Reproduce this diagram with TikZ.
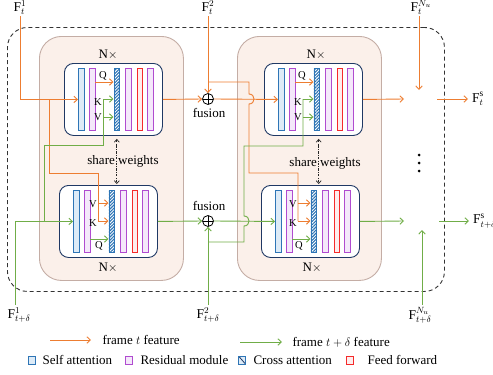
\documentclass[tikz,border=0pt]{standalone}
\usepackage{fontspec}
\setmainfont{Liberation Serif}
\usetikzlibrary{arrows.meta,patterns.meta,calc}

\definecolor{orng}{HTML}{ED7D31}
\definecolor{grn}{HTML}{70AD47}
\definecolor{sablue}{HTML}{2E75B6}
\definecolor{safill}{HTML}{DDEBF7}
\definecolor{rmpurple}{HTML}{B04BD0}
\definecolor{rmfill}{HTML}{F4E8FA}
\definecolor{ffred}{HTML}{F52A2A}
\definecolor{fffill}{HTML}{FDEDED}
\definecolor{navy}{HTML}{1F3864}
\definecolor{shellfill}{HTML}{FBF0EA}
\definecolor{shelldraw}{HTML}{C4ADA5}

\tikzset{
  bar/.style={minimum width=5.5pt, minimum height=62pt, inner sep=0pt, anchor=north west, line width=0.9pt},
  sabar/.style={bar, draw=sablue, fill=safill},
  rmbar/.style={bar, draw=rmpurple, fill=rmfill},
  ffbar/.style={bar, draw=ffred, fill=fffill},
  cabar/.style={bar, draw=sablue, preaction={fill=white},
    pattern={Lines[angle=45,distance=2.2pt,line width=1.1pt]}, pattern color=sablue},
  innerbox/.style={draw=navy, fill=white, line width=0.9pt, rounded corners=9pt,
    minimum width=98pt, minimum height=72pt, inner sep=0pt, anchor=north west},
  shell/.style={draw=shelldraw, fill=shellfill, line width=0.9pt, rounded corners=22pt,
    minimum width=144pt, minimum height=244pt, inner sep=0pt, anchor=north west},
  frame/.style={draw=black!80, line width=0.9pt, dash pattern=on 4pt off 3pt,
    rounded corners=20pt, minimum width=437pt, minimum height=264pt, inner sep=0pt, anchor=north west},
  arr/.style={-{Straight Barb[length=3.5pt,width=6.5pt]}},
  oline/.style={draw=orng, line width=0.9pt},
  gline/.style={draw=grn, line width=0.9pt},
  fus/.style={circle, draw=black, line width=0.8pt, minimum size=11pt, inner sep=0pt,
    path picture={\draw[line width=0.8pt] (path picture bounding box.north) -- (path picture bounding box.south)
      (path picture bounding box.west) -- (path picture bounding box.east);}},
  flabel/.style={font=\fontsize{13.5}{15}\selectfont, inner sep=1pt},
  qkv/.style={font=\fontsize{10.5}{12}\selectfont, inner sep=0pt},
  sharearr/.style={draw=black!85, line width=0.7pt, dash pattern=on 2.5pt off 1.3pt on 0.6pt off 1.3pt,
    {Straight Barb[length=2.8pt,width=5pt]}-{Straight Barb[length=2.8pt,width=5pt]}},
  legsq/.style={minimum width=7pt, minimum height=8pt, inner sep=0pt, line width=0.9pt},
  dot/.style={circle, fill=black, minimum size=3pt, inner sep=0pt},
}

% one transformer block: rounded frame with its six layer bars
\newcommand{\tfblock}[3]{%
  \node[innerbox] (#1box) at (#2,#3) {};
  \node[sabar] (#1sa)  at ($(#2,#3)+(14,5)$) {};
  \node[rmbar] (#1rma) at ($(#2,#3)+(25,5)$) {};
  \node[cabar] (#1ca)  at ($(#2,#3)+(49.5,5)$) {};
  \node[rmbar] (#1rmb) at ($(#2,#3)+(61,5)$) {};
  \node[ffbar] (#1ff)  at ($(#2,#3)+(72.5,5)$) {};
  \node[rmbar] (#1rmc) at ($(#2,#3)+(83,5)$) {};
}

\begin{document}
\begin{tikzpicture}[x=1pt, y=-1pt, font=\fontsize{13}{15.6}\selectfont]
\useasboundingbox (0,0) rectangle (493,375);

% outer dashed frame and the two stage shells
\node[frame] (outer) at (7,27) {};
\node[shell] (shellL) at (39,36) {};
\node[shell] (shellR) at (237,36) {};

% transformer blocks
\tfblock{TL}{64}{63}
\tfblock{BL}{59}{185}
\tfblock{TR}{264}{63}
\tfblock{BR}{261}{185}

% repetition marks
\node (nTL) at (108,55) {N$\times$};
\node (nTR) at (316,55) {N$\times$};
\node (nBL) at (108,268) {N$\times$};
\node (nBR) at (312,268) {N$\times$};

% weight sharing
\draw[sharearr] ([yshift=-3pt]TLca.center |- TLbox.south) -- ([yshift=1pt]TLca.center |- BLbox.north);
\node (swL) at (123,161) {share weights};
\draw[sharearr] ([xshift=2pt,yshift=-3pt]TRca.center |- TRbox.south) -- ([xshift=2pt,yshift=1pt]TRca.center |- BRbox.north);
\node (swR) at (325,163) {share weights};

% fusion points
\node[fus] (fusT) at (208,99) {};
\node[fus] (fusB) at (208,221) {};
\node (fuT) at (209,113) {fusion};
\node (fuB) at (209,206) {fusion};

% ---------- frame t stream ----------
\coordinate (inT1) at (20,16);
\node[flabel, anchor=south] (Ft1) at (inT1) {$\mathrm{F}^{1}_{t}$};
\draw[oline,arr] (inT1) |- (TLsa.west);
\coordinate (brT1) at (49,99);
\draw[oline] (brT1) |- (98,173) -- (98,221);
\draw[oline,arr] (98,203) -- (BLca.west |- 0,203);
\draw[oline,arr] (98,221) -- (BLca.west |- 0,221);
\draw[oline,arr] (TLrma.east |- 0,82) -- (TLca.west |- 0,82);
\draw[oline,arr] (TLbox.east) -- (fusT.west);

\coordinate (inT2) at (208,16);
\node[flabel, anchor=south] (Ft2) at (inT2) {$\mathrm{F}^{2}_{t}$};
\draw[oline,arr] (inT2) -- (fusT.north);
\draw[oline] (208,82) -- (249,82) -- (249,94) .. controls (255.7,94) and (255.7,104) .. (249,104) -- (249,173) -| (298,221);
\draw[oline,arr] (298,203) -- (BRca.west |- 0,203);
\draw[oline,arr] (298,221) -- (BRca.west |- 0,221);
\draw[oline,arr] (fusT.east) -- (TRsa.west);
\draw[oline,arr] (TRrma.east |- 0,82) -- (TRca.west |- 0,82);

\coordinate (outT) at (404,99);
\draw[oline,arr] (TRbox.east) -- (outT);
\coordinate (inTN) at (419,16);
\coordinate (mergeT) at (419,90);
\node[flabel, anchor=south] (FtN) at ($(inTN)+(2,0)$) {$\mathrm{F}^{N_u}_{t}$};
\draw[oline,arr] (inTN) -- (mergeT);
\coordinate (sT) at (437,99);
\node[flabel, anchor=west] (FsT) at (471,99) {$\mathrm{F}^{\mathrm{s}}_{t}$};
\draw[oline,arr] (sT) -- ([xshift=-3pt]FsT.west);

% ---------- frame t+delta stream ----------
\coordinate (inB1) at (15,305);
\node[flabel, anchor=north] (Fb1) at ($(inB1)+(4,1)$) {$\mathrm{F}^{1}_{t+\delta}$};
\draw[gline,arr] (inB1) |- (BLsa.west);
\coordinate (brB1) at (44,221);
\draw[gline] (brB1) |- (103,145) -- (103,99);
\draw[gline,arr] (103,99) -- (TLca.west |- 0,99);
\draw[gline,arr] (103,117) -- (TLca.west |- 0,117);
\draw[gline,arr] (BLrma.east |- 0,239) -- (BLca.west |- 0,239);
\draw[gline,arr] (BLbox.east) -- (fusB.west);

\coordinate (inB2) at (208,305);
\node[flabel, anchor=north] (Fb2) at ($(inB2)+(0,1)$) {$\mathrm{F}^{2}_{t+\delta}$};
\draw[gline,arr] (inB2) -- (fusB.south);
\draw[gline] (208,242) -- (244,242) -- (244,226) .. controls (250.7,226) and (250.7,216) .. (244,216) -- (244,146) -| (303,99);
\draw[gline,arr] (303,99) -- (TRca.west |- 0,99);
\draw[gline,arr] (303,117) -- (TRca.west |- 0,117);
\draw[gline,arr] (fusB.east) -- (BRsa.west);
\draw[gline,arr] (BRrma.east |- 0,239) -- (BRca.west |- 0,239);

\coordinate (outB) at (404,221);
\draw[gline,arr] (BRbox.east) -- (outB);
\coordinate (inBN) at (422,305);
\coordinate (mergeB) at (422,230);
\node[flabel, anchor=north] (FbN) at ($(inBN)+(-2,1)$) {$\mathrm{F}^{N_u}_{t+\delta}$};
\draw[gline,arr] (inBN) -- (mergeB);
\coordinate (sB) at (439,221);
\node[flabel, anchor=west] (FsB) at (472,221) {$\mathrm{F}^{\mathrm{s}}_{t+\delta}$};
\draw[gline,arr] (sB) -- ([xshift=-3pt]FsB.west);

% query / key / value tags
\node[qkv] (qTL) at (103,76) {Q};
\node[qkv] (kTL) at (98,102) {K};
\node[qkv] (vTL) at (98,117) {V};
\node[qkv] (vBL) at (93,204) {V};
\node[qkv] (kBL) at (93,223) {K};
\node[qkv] (qBL) at (99,246) {Q};
\node[qkv] (qTR) at (302,76) {Q};
\node[qkv] (kTR) at (298,102) {K};
\node[qkv] (vTR) at (298,117) {V};
\node[qkv] (vBR) at (293,204) {V};
\node[qkv] (kBR) at (293,223) {K};
\node[qkv] (qBR) at (299,246) {Q};

% more streams
\node[dot] (d1) at (419,155) {};
\node[dot] (d2) at (419,163) {};
\node[dot] (d3) at (419,171) {};

% legend
\coordinate (lgO1) at (50,340);
\coordinate (lgO2) at (91,340);
\draw[oline,arr] (lgO1) -- (lgO2);
\node[anchor=west] (lgOt) at (99,340) {frame $t$ feature};
\coordinate (lgG1) at (240,342);
\coordinate (lgG2) at (282,342);
\draw[gline,arr] (lgG1) -- (lgG2);
\node[anchor=west] (lgGt) at (289,342) {frame $t+\delta$ feature};

\node[legsq, draw=sablue, fill=safill] (sqSA) at (31.5,360) {};
\node[anchor=west] (tSA) at (39,360) {Self attention};
\node[legsq, draw=rmpurple, fill=rmfill] (sqRM) at (129,360) {};
\node[anchor=west] (tRM) at (137,360) {Residual module};
\node[legsq, draw=sablue, fill=safill,
  path picture={\draw[navy, line width=0.8pt] (path picture bounding box.north west) -- (path picture bounding box.south east);}] (sqCA) at (242,360) {};
\node[anchor=west] (tCA) at (250,360) {Cross attention};
\node[legsq, draw=ffred, fill=fffill] (sqFF) at (349.5,360) {};
\node[anchor=west] (tFF) at (364,360) {Feed forward};
\end{tikzpicture}
\end{document}
